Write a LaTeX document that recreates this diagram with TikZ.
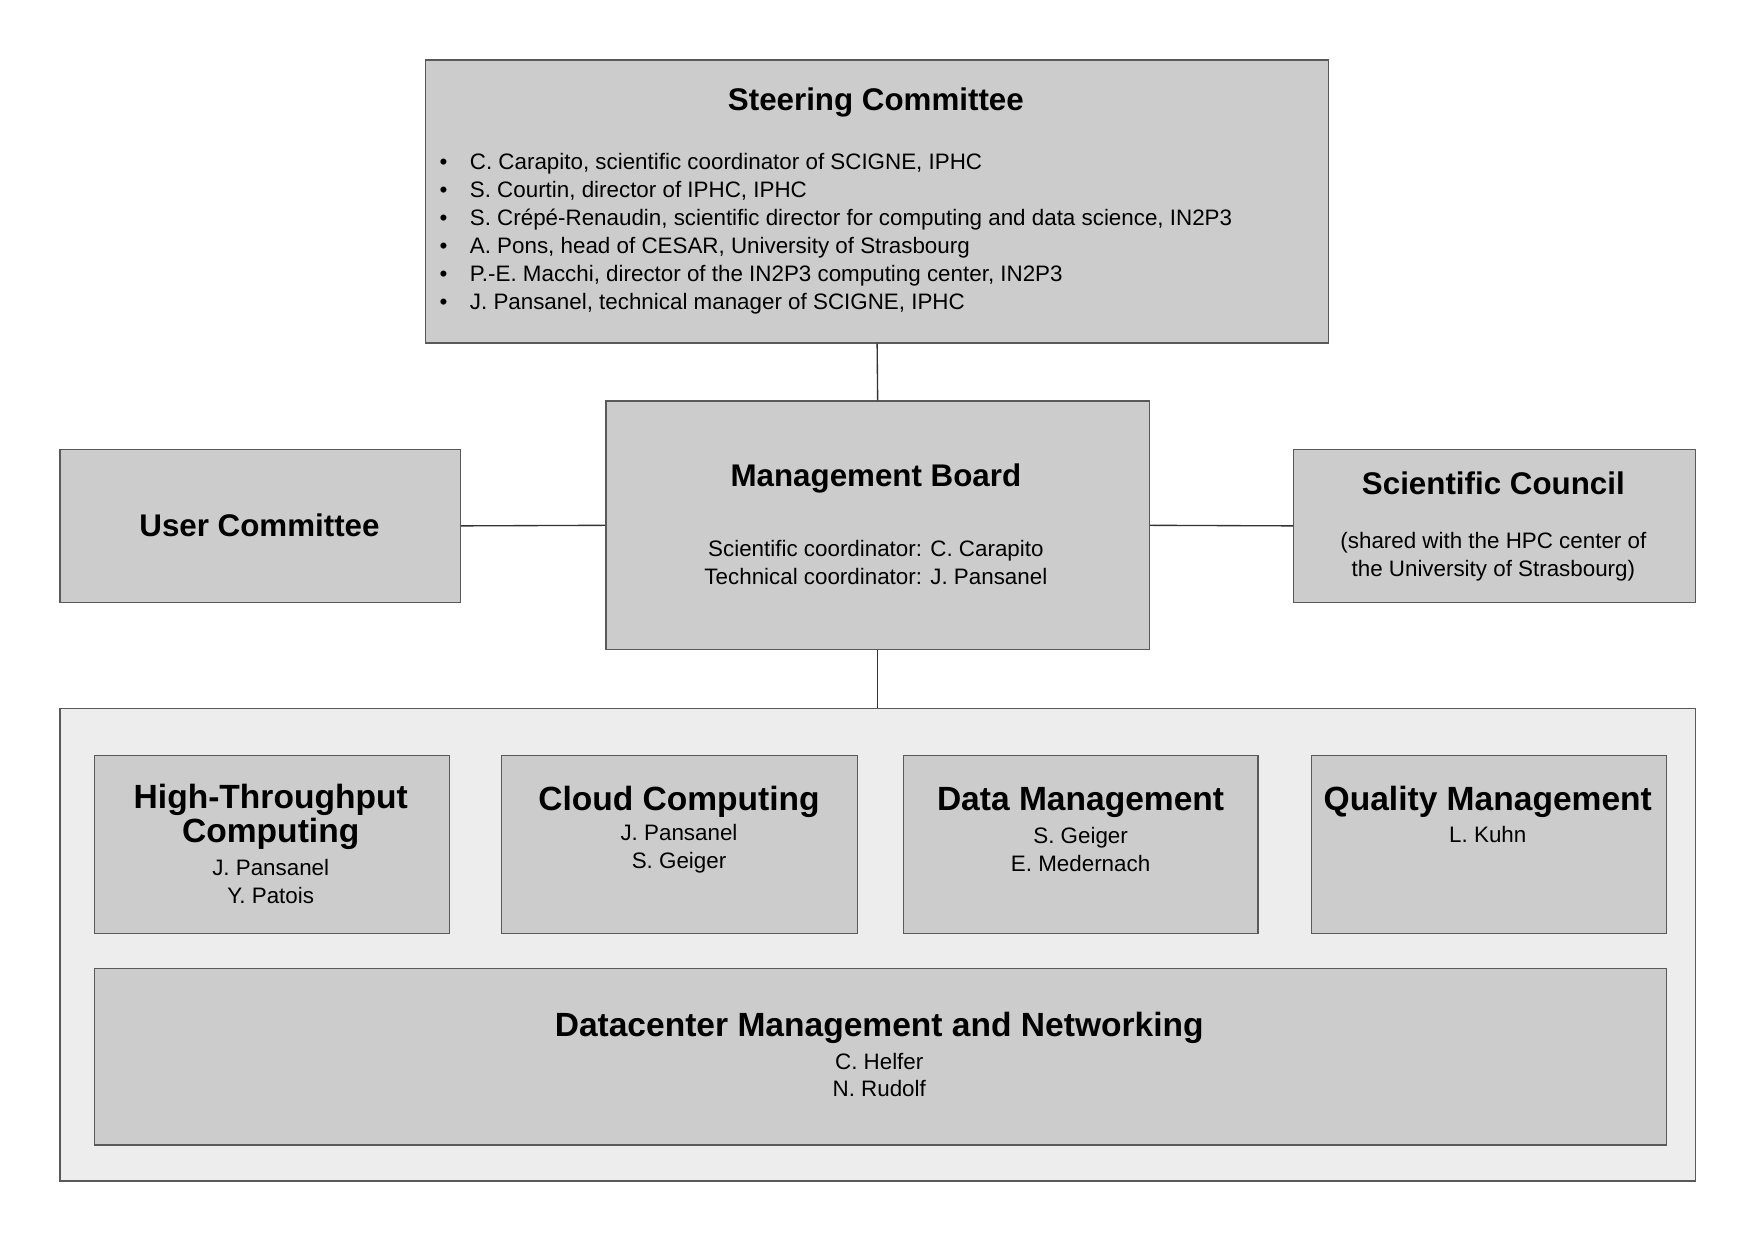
\documentclass[tikz,border=0pt]{standalone}
\usepackage{fontspec}
\setmainfont{Liberation Sans}
\begin{document}
\begin{tikzpicture}[x=0.5pt,y=-0.5pt,
  box/.style={draw=black!65,fill=black!20,line width=0.6pt},
  outer/.style={draw=black!65,fill=black!7,line width=0.6pt},
  conn/.style={draw=black!80,line width=0.6pt},
  ttl/.style={font=\fontsize{14}{16}\selectfont\bfseries},
  sttl/.style={font=\fontsize{15}{10}\selectfont\bfseries,align=center},
  txt/.style={font=\fontsize{10}{12.5}\selectfont,align=center}]
\useasboundingbox (0,0) rectangle (1568,1109);
\node[box,minimum width=403.5pt,minimum height=126.5pt,anchor=north west] (sc) at (380,53) {};
\node[box,minimum width=243pt,minimum height=111pt,anchor=north west] (mb) at (541,358) {};
\node[box,minimum width=179pt,minimum height=68.5pt,anchor=north west] (uc) at (53,401) {};
\node[box,minimum width=179.5pt,minimum height=68.5pt,anchor=north west] (sci) at (1156,401) {};
\node[outer,minimum width=731pt,minimum height=211pt,anchor=north west] (wp) at (53,633) {};
\node[box,minimum width=158.5pt,minimum height=79.5pt,anchor=north west] (htc) at (84,675) {};
\node[box,minimum width=159pt,minimum height=79.5pt,anchor=north west] (cc) at (448,675) {};
\node[box,minimum width=158.5pt,minimum height=79.5pt,anchor=north west] (dm) at (807,675) {};
\node[box,minimum width=158.5pt,minimum height=79.5pt,anchor=north west] (qm) at (1172,675) {};
\node[box,minimum width=702.5pt,minimum height=79pt,anchor=north west] (dc) at (84,865) {};
\draw[conn] (sc.south) -- (mb.north);
\draw[conn] (mb.west) -- (uc.east);
\draw[conn] (mb.east) -- (sci.east -| sci.west);
\draw[conn] (mb.south) -- (wp.north -| mb.south);
% texts
\node[ttl] (sct) at (783,92) {Steering Committee};
\node[font=\fontsize{10}{12.5}\selectfont,align=left,anchor=west] (scl) at (386,209) {%
\makebox[13.5pt][l]{•}C. Carapito, scientific coordinator of SCIGNE, IPHC\\
\makebox[13.5pt][l]{•}S. Courtin, director of IPHC, IPHC\\
\makebox[13.5pt][l]{•}S. Crépé-Renaudin, scientific director for computing and data science, IN2P3\\
\makebox[13.5pt][l]{•}A. Pons, head of CESAR, University of Strasbourg\\
\makebox[13.5pt][l]{•}P.-E. Macchi, director of the IN2P3 computing center, IN2P3\\
\makebox[13.5pt][l]{•}J. Pansanel, technical manager of SCIGNE, IPHC};
\node[ttl] (mbt) at (783,428) {Management Board};
\node[txt] (mbl) at (783,503) {Scientific coordinator: C. Carapito\\Technical coordinator: J. Pansanel};
\node[ttl] (uct) at (232,470) {User Committee};
\node[ttl] (scit) at (1335,432) {Scientific Council};
\node[txt] (scil) at (1335,498) {(shared with the HPC center of\\the University of Strasbourg)};
\node[sttl,font=\fontsize{15}{9.5}\selectfont\bfseries] (htct) at (242,730) {High-Throughput\\Computing};
\node[txt] (htcl) at (242,788) {J. Pansanel\\Y. Patois};
\node[sttl] (cct) at (607,717) {Cloud Computing};
\node[txt] (ccl) at (607,759) {J. Pansanel\\S. Geiger};
\node[sttl] (dmt) at (966,717) {Data Management};
\node[txt] (dml) at (966,759) {S. Geiger\\E. Medernach};
\node[sttl] (qmt) at (1330,717) {Quality Management};
\node[txt] (qml) at (1330,746) {L. Kuhn};
\node[sttl] (dct) at (786,919) {Datacenter Management and Networking};
\node[txt] (dcl) at (786,961) {C. Helfer\\N. Rudolf};
\end{tikzpicture}
\end{document}
